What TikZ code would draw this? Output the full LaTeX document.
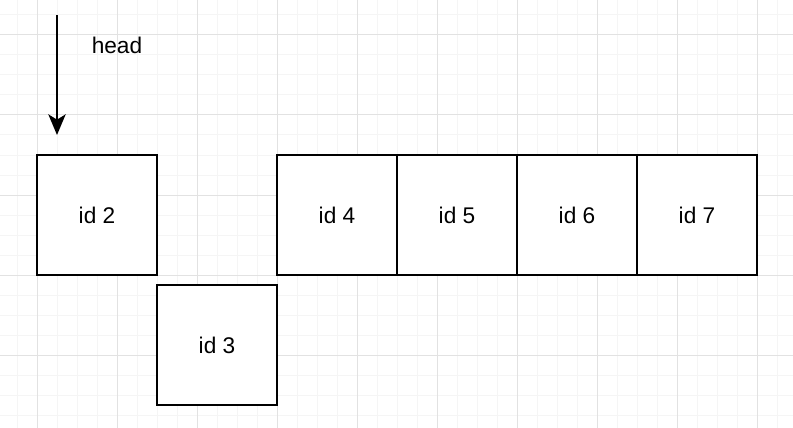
\documentclass[tikz,border=0pt]{standalone}
\usepackage{fontspec}
\setmainfont{Liberation Sans}
\usetikzlibrary{arrows.meta}
\definecolor{minorgrid}{RGB}{245,245,245}
\definecolor{majorgrid}{RGB}{226,226,226}
\begin{document}
\begin{tikzpicture}[x=0.75pt,y=-0.75pt,
  cell/.style={draw=black,line width=1.5pt,fill=white,minimum width=90pt,minimum height=90pt,inner sep=0pt,font=\fontsize{17}{20}\selectfont},
  lbl/.style={font=\fontsize{17}{20}\selectfont,inner sep=0pt},
  ptr/.style={line width=1.5pt,-{Stealth[length=15.5pt,width=13pt,inset=4pt]}}]
\useasboundingbox (0,0) rectangle (793,428);
\fill[white] (0,0) rectangle (793,428);
% minor grid
\foreach \x in {17,37,...,777} \draw[minorgrid,line width=0.75pt] (\x,0) -- (\x,428);
\foreach \y in {15,35,...,415} \draw[minorgrid,line width=0.75pt] (0,\y) -- (793,\y);
% major grid
\foreach \x in {37,117,...,757} \draw[majorgrid,line width=0.75pt] (\x,0) -- (\x,428);
\foreach \y in {35,115,...,355} \draw[majorgrid,line width=0.75pt] (0,\y) -- (793,\y);
% cells
\node[cell] (id2) at (97,215) {id 2};
\node[cell] (id3) at (217,345) {id 3};
\node[cell] (id4) at (337,215) {id 4};
\node[cell] (id5) at (457,215) {id 5};
\node[cell] (id6) at (577,215) {id 6};
\node[cell] (id7) at (697,215) {id 7};
% head pointer
\node[lbl] (head) at (117,45.5) {head};
\coordinate (hs) at (57,15);
\coordinate (he) at (57,135);
\draw[ptr] (hs) -- (he);
\end{tikzpicture}
\end{document}
